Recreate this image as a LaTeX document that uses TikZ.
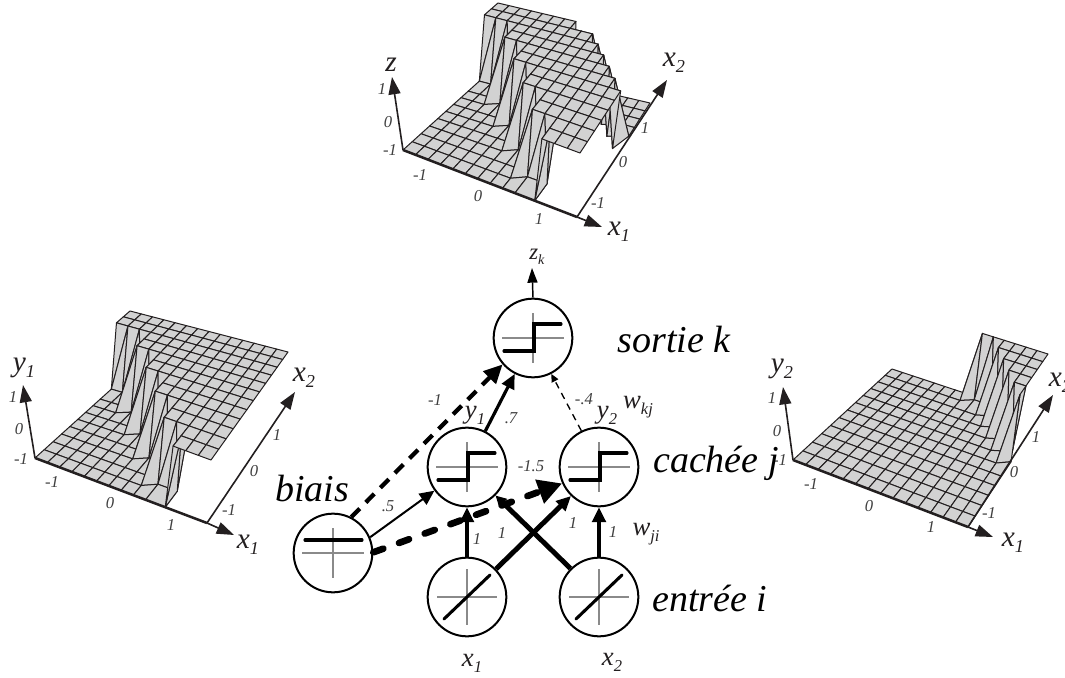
\documentclass[tikz,border=0pt]{standalone}
\usepackage{fontspec}
\setmainfont{Liberation Serif}
\usetikzlibrary{arrows.meta,calc}
\definecolor{inkc}{HTML}{231F20}
\definecolor{cellc}{HTML}{D2D2D2}
\definecolor{crossc}{HTML}{8A8A8A}
\definecolor{tickc}{HTML}{404040}
\def\setlow#1,#2,#3,#4,#5,#6,#7,#8;{\def\myLax{#1}\def\myLay{#2}\def\myLbx{#3}\def\myLby{#4}\def\myLcx{#5}\def\myLcy{#6}\def\myLdx{#7}\def\myLdy{#8}}
\def\sethigh#1,#2,#3,#4,#5,#6,#7,#8;{\def\myHax{#1}\def\myHay{#2}\def\myHbx{#3}\def\myHby{#4}\def\myHcx{#5}\def\myHcy{#6}\def\myHdx{#7}\def\myHdy{#8}}
\newcommand\surface[3]{\setlow#2;\sethigh#3;
  \foreach \myi in {0,...,14}{\foreach \myj in {0,...,12}{
    \pgfmathsetmacro\myH{#1(\myi,\myj)}
    \pgfmathsetmacro\myDi{0.6*(1-\myH)*(abs(#1(min(\myi+1,14),\myj)-\myH)-abs(#1(max(\myi-1,0),\myj)-\myH))}
    \pgfmathsetmacro\myDj{0.6*(1-\myH)*(abs(#1(\myi,min(\myj+1,12))-\myH)-abs(#1(\myi,max(\myj-1,0))-\myH))}
    \pgfmathsetmacro\myU{(\myi+\myDi)/14}\pgfmathsetmacro\myT{(\myj+\myDj)/12}
    \pgfmathsetmacro\myV{\myT/(\myT+0.82*(1-\myT))}
    \pgfmathsetmacro\myWa{(1-\myU)*(1-\myV)}\pgfmathsetmacro\myWb{\myU*(1-\myV)}
    \pgfmathsetmacro\myWc{\myU*\myV}\pgfmathsetmacro\myWd{(1-\myU)*\myV}
    \pgfmathsetmacro\myLx{\myWa*\myLax+\myWb*\myLbx+\myWc*\myLcx+\myWd*\myLdx}
    \pgfmathsetmacro\myLy{\myWa*\myLay+\myWb*\myLby+\myWc*\myLcy+\myWd*\myLdy}
    \pgfmathsetmacro\myTx{\myWa*\myHax+\myWb*\myHbx+\myWc*\myHcx+\myWd*\myHdx}
    \pgfmathsetmacro\myTy{\myWa*\myHay+\myWb*\myHby+\myWc*\myHcy+\myWd*\myHdy}
    \pgfmathsetmacro\myVx{\myLx+\myH*(\myTx-\myLx)}\pgfmathsetmacro\myVy{\myLy+\myH*(\myTy-\myLy)}
    \coordinate (V-\myi-\myj) at (\myVx,\myVy);
  }}
  \foreach \myj in {11,...,0}{\pgfmathtruncatemacro\myJn{\myj+1}
    \foreach \myi in {0,...,13}{\pgfmathtruncatemacro\myIn{\myi+1}
      \pgfmathtruncatemacro\mySum{#1(\myi,\myj)+#1(\myIn,\myj)+#1(\myIn,\myJn)+#1(\myi,\myJn)}
      \ifnum\mySum=0 \filldraw[cellstyle] (V-\myi-\myj) -- (V-\myIn-\myj) -- (V-\myIn-\myJn) -- (V-\myi-\myJn) -- cycle;
      \else\ifnum\mySum=4 \filldraw[cellstyle] (V-\myi-\myj) -- (V-\myIn-\myj) -- (V-\myIn-\myJn) -- (V-\myi-\myJn) -- cycle;
      \else
        \filldraw[cellstyle] (V-\myi-\myj) -- (V-\myIn-\myJn) -- (V-\myi-\myJn) -- cycle;
        \filldraw[cellstyle] (V-\myi-\myj) -- (V-\myIn-\myj) -- (V-\myIn-\myJn) -- cycle;
      \fi\fi
  }}}
\newcommand\lab[2]{\textit{#1}\raisebox{-.22em}{\fontsize{.62em}{1em}\selectfont\textit{#2}}}
\tikzset{
  cellstyle/.style={fill=cellc,draw=inkc,line width=.75pt,line join=round},
  axthick/.style={draw=inkc,line width=1.9pt},
  axline/.style={draw=inkc,line width=1.2pt,-{Triangle[length=13pt,width=9pt]}},
  axlab/.style={inner sep=0pt,font=\fontsize{22}{24}\selectfont,text=inkc},
  tick/.style={inner sep=0pt,font=\fontsize{12.5}{14}\selectfont\itshape,text=tickc},
  bigl/.style={inner sep=0pt,font=\fontsize{28.5}{30}\selectfont\itshape,text=black},
  unit/.style={circle,draw=black,line width=1.5pt,fill=white,minimum size=59pt,inner sep=0pt},
  crossl/.style={draw=crossc,line width=1.1pt},
  curve/.style={draw=black,line width=2.3pt,line join=miter,line cap=round},
  headm/.style={-{Triangle[length=11pt,width=10pt]}},
  conn/.style={draw=black,headm},
}
\newcommand\crossat[3]{\draw[crossl] ($(#1)+(-#2,0)$) -- ($(#1)+(#2,0)$); \draw[crossl] ($(#1)+(0,-#3)$) -- ($(#1)+(0,#3)$);}
\newcommand\stepglyph[1]{\crossat{#1}{31}{25}\draw[curve] ($(#1)+(-29,13)$) -- ($(#1)+(1,13)$) -- ($(#1)+(1,-14)$) -- ($(#1)+(28,-14)$);}
\newcommand\biasglyph[1]{\crossat{#1}{31}{25}\draw[curve] ($(#1)+(-28,-13)$) -- ($(#1)+(29,-13)$);}
\newcommand\linglyph[1]{\crossat{#1}{30}{28}\draw[curve] ($(#1)+(-23,22)$) -- ($(#1)+(23,-22)$);}
\begin{document}
\begin{tikzpicture}[x=.75pt,y=-.75pt,
  declare function={
    hone(\a,\b)=((\b+2*floor(\a/2.2))>=10)?1:0;
    htwo(\a,\b)=(\b>=(12-floor((\a-8)*0.85)))?1:0;
    hband(\a,\b)=(((\b+2*floor(\a/2.2))>=10)&&(\b<(12-floor((\a-8)*0.85))))?1:0;
  }]
\useasboundingbox (0,0) rectangle (1065,678);
\fill[white] (0,0) rectangle (1065,678);

% ---- top plot
\surface{hband}{403,150,577,217,650,103,495,67}{402,87,580,153,654,40,498,3}
\coordinate (tO) at (403,150); \coordinate (tZ) at (392,77); \coordinate (tE) at (577,217);
\coordinate (tX) at (602,227); \coordinate (tY) at (667,80);
\draw[axline] (tO) -- (tZ);
\draw[axthick] (tO) -- (tE);
\draw[axline] (tE) -- (tX);
\draw[axline] (tE) -- (tY);
\node[axlab] (tlz) at (391,65) {\textit{z}};
\node[axlab] (tlx) at (619,232) {\lab{x}{1}};
\node[axlab] (tly) at (674,63) {\lab{x}{2}};
\node[tick] (t1) at (382,89) {1};
\node[tick] (t2) at (388,122) {0};
\node[tick] (t3) at (390,150) {-1};
\node[tick] (t4) at (420,175) {-1};
\node[tick] (t5) at (478,196) {0};
\node[tick] (t6) at (539,219) {1};
\node[tick] (t7) at (598,203) {-1};
\node[tick] (t8) at (623,162) {0};
\node[tick] (t9) at (645,128) {1};

% ---- left plot
\surface{hone}{35,458,207,523,278,416,127,375}{34,395,211,460,288,352,130,311}
\coordinate (lO) at (35,458); \coordinate (lZ) at (23,385); \coordinate (lE) at (207,523);
\coordinate (lX) at (234,535); \coordinate (lY) at (295,392);
\draw[axline] (lO) -- (lZ);
\draw[axthick] (lO) -- (lE);
\draw[axline] (lE) -- (lX);
\draw[axline] (lE) -- (lY);
\node[axlab] (llz) at (24,368) {\lab{y}{1}};
\node[axlab] (llx) at (248,545) {\lab{x}{1}};
\node[axlab] (lly) at (304,378) {\lab{x}{2}};
\node[tick] (l1) at (13,397) {1};
\node[tick] (l2) at (19,429) {0};
\node[tick] (l3) at (21,459) {-1};
\node[tick] (l4) at (52,482) {-1};
\node[tick] (l5) at (110,503) {0};
\node[tick] (l6) at (171,525) {1};
\node[tick] (l7) at (229,510) {-1};
\node[tick] (l8) at (254,471) {0};
\node[tick] (l9) at (277,435) {1};

% ---- right plot
\surface{htwo}{793,460,968,527,1040,418,892,369}{792,397,972,464,1048,354,895,306}
\coordinate (rO) at (793,460); \coordinate (rZ) at (783,387); \coordinate (rE) at (968,527);
\coordinate (rX) at (993,537); \coordinate (rY) at (1053,395);
\draw[axline] (rO) -- (rZ);
\draw[axthick] (rO) -- (rE);
\draw[axline] (rE) -- (rX);
\draw[axline] (rE) -- (rY);
\node[axlab] (rlz) at (782,369) {\lab{y}{2}};
\node[axlab] (rlx) at (1013,543) {\lab{x}{1}};
\node[axlab] (rly) at (1060,383) {\lab{x}{2}};
\node[tick] (r1) at (772,398) {1};
\node[tick] (r2) at (777,431) {0};
\node[tick] (r3) at (780,460) {-1};
\node[tick] (r4) at (811,484) {-1};
\node[tick] (r5) at (869,506) {0};
\node[tick] (r6) at (931,527) {1};
\node[tick] (r7) at (989,513) {-1};
\node[tick] (r8) at (1014,472) {0};
\node[tick] (r9) at (1036,437) {1};

% ---- network
\node[unit] (k) at (533,338) {};
\node[unit] (y1) at (467,467) {};
\node[unit] (y2) at (599,467) {};
\node[unit] (b) at (333,553) {};
\node[unit] (x1) at (467,597) {};
\node[unit] (x2) at (599,597) {};
\stepglyph{k}\stepglyph{y1}\stepglyph{y2}\biasglyph{b}\linglyph{x1}\linglyph{x2}
\coordinate (out) at (532,268);

\draw[draw=black,line width=1.1pt,-{Triangle[length=11pt,width=7.5pt]}] (k.north) -- (out);
\draw[conn,line width=3.2pt,dash pattern=on 9pt off 6.5pt,-{Triangle[length=14pt,width=13pt]}] (b.63) -- (k.221);
\draw[conn,line width=2.4pt] (y1.63) -- (k.243);
\draw[conn,line width=1pt,dash pattern=on 5pt off 4pt,-{Triangle[length=6pt,width=5.5pt]}] (y2.116) -- (k.-63);
\draw[conn,line width=1.5pt] (b.23) -- (y1.216);
\draw[conn,line width=5pt,line cap=round,dash pattern=on 8pt off 12.5pt,-{Triangle[length=18pt,width=18pt]}] (b.1) -- (y2.204);
\draw[conn,line width=3.7pt] (x1.north) -- (y1.south);
\draw[conn,line width=3.7pt] (x1.44) -- (y2.226);
\draw[conn,line width=3.7pt,-{Triangle[length=8pt,width=8pt]}] (x2.135) -- (y1.-45);
\draw[conn,line width=3.7pt] (x2.north) -- (y2.south);

\node[axlab] (lzk) at (537,257) {\fontsize{17}{18}\selectfont\lab{z}{k}};
\node[bigl] (ls) at (674,340) {sortie k};
\node[bigl] (lc) at (716,463) {cachée j};
\node[bigl] (lb) at (312,489) {biais};
\node[bigl] (le) at (710,598) {entrée i};
\node[axlab] (lx1) at (472,663) {\fontsize{20}{22}\selectfont\lab{x}{1}};
\node[axlab] (lx2) at (612,662) {\fontsize{20}{22}\selectfont\lab{x}{2}};
\node[axlab] (ly1) at (475,415) {\fontsize{20}{22}\selectfont\lab{y}{1}};
\node[axlab] (ly2) at (607,415) {\fontsize{20}{22}\selectfont\lab{y}{2}};
\node[axlab] (lwk) at (638,407) {\fontsize{20}{22}\selectfont\lab{w}{kj}};
\node[axlab] (lwj) at (646,534) {\fontsize{20}{22}\selectfont\lab{w}{ji}};
\node[tick] (w1) at (435,400) {-1};
\node[tick] (w2) at (511,418) {.7};
\node[tick] (w3) at (584,399) {-.4};
\node[tick] (w4) at (388,506) {.5};
\node[tick] (w5) at (531,466) {-1.5};
\node[tick] (w6) at (477,539) {1};
\node[tick] (w7) at (502,533) {1};
\node[tick] (w8) at (573,523) {1};
\node[tick] (w9) at (613,532) {1};
\end{tikzpicture}
\end{document}
